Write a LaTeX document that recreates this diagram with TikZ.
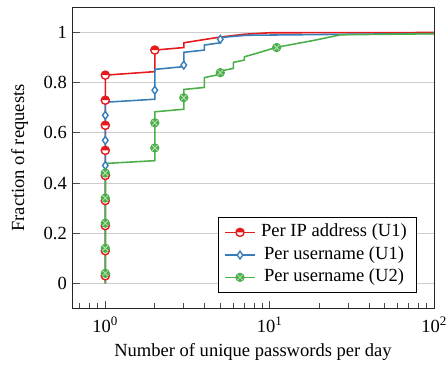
\documentclass[tikz,border=0pt]{standalone}
\usepackage{fontspec}
\setmainfont{Liberation Serif}
\definecolor{cred}{RGB}{228,26,28}
\definecolor{cblue}{RGB}{55,126,184}
\definecolor{cgreen}{RGB}{77,175,74}
\definecolor{gridgray}{RGB}{205,205,205}
\tikzset{
  gridline/.style={gridgray, line width=0.5pt},
  tickline/.style={black!70, line width=0.4pt},
  axisline/.style={black!85, line width=0.6pt},
  redline/.style={cred, line width=0.85pt},
  blueline/.style={cblue, line width=0.85pt},
  greenline/.style={cgreen, line width=0.85pt},
  ticklabel/.style={inner sep=0pt},
  legtext/.style={inner sep=1pt},
  pics/halfmark/.style={code={
    \fill[white] (0,0) circle (2.2pt);
    \fill[cred] (2.2pt,0) arc (0:180:2.2pt) -- cycle;
    \draw[cred, line width=0.75pt] (0,0) circle (2.2pt);
  }},
  pics/diamark/.style={code={
    \draw[cblue, fill=white, line width=0.75pt]
      (0,2.1pt) -- (1.5pt,0) -- (0,-2.1pt) -- (-1.5pt,0) -- cycle;
  }},
  pics/crossmark/.style={code={
    \draw[cgreen, fill=cgreen, line width=0.6pt] (0,0) circle (2.2pt);
    \draw[cgreen!40!white, line width=0.45pt]
      (-1.5pt,-1.5pt) -- (1.5pt,1.5pt) (-1.5pt,1.5pt) -- (1.5pt,-1.5pt);
  }},
}
\begin{document}
\begin{tikzpicture}[x=88.78pt, y=135.36pt, font=\fontsize{10}{12}\selectfont]
\useasboundingbox (-0.640,-0.3258) rectangle (2.077,1.1296);

% horizontal grid
\foreach \v in {0,0.2,0.4,0.6,0.8,1}
  \draw[gridline] (-0.2,\v) -- (2,\v);

% y ticks and labels
\foreach \v/\t in {0/0,0.2/0.2,0.4/0.4,0.6/0.6,0.8/0.8,1/1} {
  \draw[tickline] (-0.2,\v) -- ++(4.25pt,0);
  \node[ticklabel, anchor=east] (yt\t) at ([xshift=-2.8pt]-0.2,\v) {\t};
}

% x ticks (log scale)
\foreach \m in {0.7,0.8,0.9,2,3,4,5,6,7,8,9,20,30,40,50,60,70,80,90}
  \draw[tickline] ({log10(\m)},-0.1) -- ++(0,2.83pt);
\foreach \e in {0,1,2} {
  \draw[tickline] (\e,-0.1) -- ++(0,4.25pt);
  \node[ticklabel, anchor=base] (xt\e) at (\e,-0.194) {10\textsuperscript{\e}};
}

% per IP address (U1)
\draw[redline] (0,0) -- (0,0.83) -- ({log10(2)},0.844) -- ({log10(2)},0.93)
  -- ({log10(3)},0.94) -- ({log10(3)},0.959) -- ({log10(5)},0.982)
  -- ({log10(7)},0.993) -- (1,0.999) -- (2,1.0);
% per username (U1)
\draw[blueline] (0,0) -- (0,0.722) -- ({log10(2)},0.734) -- ({log10(2)},0.853)
  -- ({log10(3)},0.864) -- ({log10(3)},0.921) -- ({log10(4)},0.930)
  -- ({log10(4)},0.950) -- ({log10(5)},0.959) -- ({log10(5)},0.980)
  -- ({log10(7.2)},0.989) -- ({log10(30)},0.993) -- (2,0.996);
% per username (U2)
\draw[greenline] (0,0) -- (0,0.478) -- ({log10(2)},0.489) -- ({log10(2)},0.684)
  -- ({log10(3)},0.694) -- ({log10(3)},0.773) -- ({log10(4)},0.781)
  -- ({log10(4)},0.82) -- ({log10(5)},0.834) -- ({log10(5)},0.846)
  -- ({log10(6)},0.857) -- ({log10(6)},0.881) -- ({log10(7)},0.890)
  -- ({log10(7)},0.903) -- ({log10(8.7)},0.921) -- ({log10(11)},0.941)
  -- ({log10(19)},0.970) -- ({log10(27)},0.991) -- (2,0.995);

% marks
\foreach \v in {0.03,0.13,0.23,0.33,0.43,0.53,0.63,0.73,0.83}
  \pic at (0,\v) {halfmark};
\pic at ({log10(2)},0.93) {halfmark};

\foreach \v in {0.47,0.57,0.67}
  \pic at (0,\v) {diamark};
\pic at ({log10(2)},0.77) {diamark};
\pic at ({log10(3)},0.87) {diamark};
\pic at ({log10(5)},0.973) {diamark};

\foreach \v in {0.04,0.14,0.24,0.34,0.44}
  \pic at (0,\v) {crossmark};
\pic at ({log10(2)},0.54) {crossmark};
\pic at ({log10(2)},0.64) {crossmark};
\pic at ({log10(3)},0.74) {crossmark};
\pic at ({log10(5)},0.84) {crossmark};
\pic at ({log10(11)},0.94) {crossmark};

% axis frame
\draw[axisline] (-0.2,-0.1) rectangle (2,1.1);

% legend
\draw[fill=white, line width=0.5pt] (0.687,0.263) rectangle (1.893,-0.036);
\draw[redline] (0.7277,0.2033) -- (0.9100,0.2033);
\pic at (0.8188,0.2033) {halfmark};
\node[legtext] (legA) at (1.390,0.2033) {Per IP address (U1)};
\draw[blueline] (0.7277,0.1128) -- (0.9100,0.1128);
\pic at (0.8188,0.1128) {diamark};
\node[legtext] (legB) at (1.390,0.1128) {Per username (U1)};
\draw[greenline] (0.7277,0.0239) -- (0.9100,0.0239);
\pic at (0.8188,0.0239) {crossmark};
\node[legtext] (legC) at (1.390,0.0239) {Per username (U2)};

% axis titles
\node[anchor=base] (xlab) at (0.898,-0.290) {Number of unique passwords per day};
\node[rotate=90] (ylab) at (-0.5216,0.5) {Fraction of requests};
\end{tikzpicture}
\end{document}
